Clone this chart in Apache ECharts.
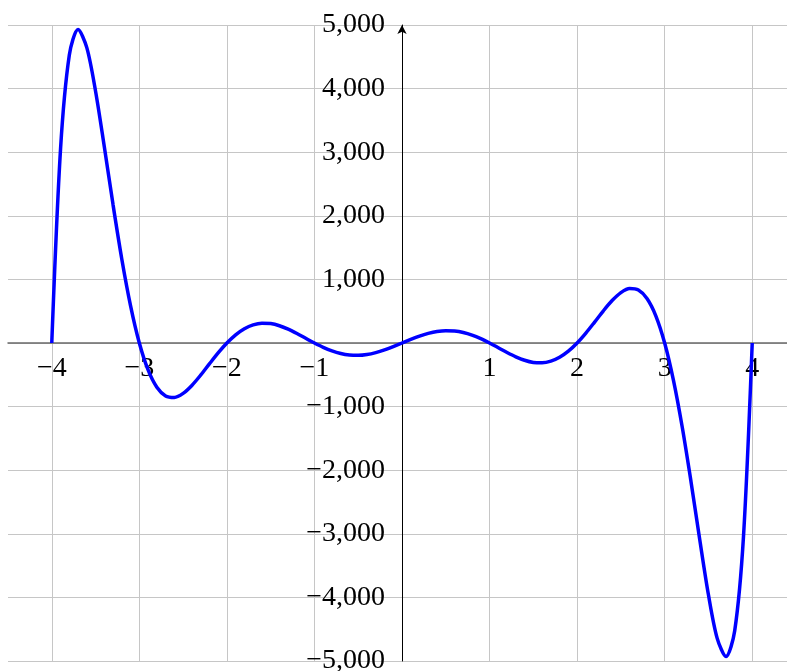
<!DOCTYPE html>
<html>
<head>
<meta charset="utf-8">
<script src="https://cdn.jsdelivr.net/npm/echarts@6/dist/echarts.min.js"></script>
<style>
html,body{margin:0;padding:0;background:#fff;}
#chart{width:787px;height:671px;}
</style>
</head>
<body>
<div id="chart"></div>
<script>
const xValues = [
 -4.0,-3.9,-3.8,-3.7,-3.6,-3.5,-3.4,-3.3,-3.2,-3.1,
 -3.0,-2.9,-2.8,-2.7,-2.6,-2.5,-2.4,-2.3,-2.2,-2.1,
 -2.0,-1.9,-1.8,-1.7,-1.6,-1.5,-1.4,-1.3,-1.2,-1.1,
 -1.0,-0.9,-0.8,-0.7,-0.6,-0.5,-0.4,-0.3,-0.2,-0.1,
 0.0,0.1,0.2,0.3,0.4,0.5,0.6,0.7,0.8,0.9,
 1.0,1.1,1.2,1.3,1.4,1.5,1.6,1.7,1.8,1.9,
 2.0,2.1,2.2,2.3,2.4,2.5,2.6,2.7,2.8,2.9,
 3.0,3.1,3.2,3.3,3.4,3.5,3.6,3.7,3.8,3.9,
 4.0
];
const yValues = [
 0,3048,4525,4929,4644,3959,3085,2172,1318,584,
 0,-424,-696,-832,-856,-792,-667,-506,-329,-156,
 0,129,225,286,311,305,271,217,149,74,
 0,-68,-124,-165,-189,-194,-181,-151,-109,-57,
 0,57,109,151,181,194,189,165,124,68,
 0,-74,-149,-217,-271,-305,-311,-286,-225,-129,
 0,156,329,506,667,792,856,832,696,424,
 0,-584,-1318,-2172,-3085,-3959,-4644,-4929,-4525,-3048,
 0
];
const xTickLabels = [-4,-3,-2,-1,1,2,3,4];
const yTickLabels = [-5000,-4000,-3000,-2000,-1000,1000,2000,3000,4000,5000];

const MINUS = '\u2212';
function fmtX(v){
  const r = Math.round(v*1000)/1000;
  if (xTickLabels.indexOf(r) < 0) return '';
  return (r < 0 ? MINUS : '') + Math.abs(r);
}
function fmtY(v){
  if (yTickLabels.indexOf(v) < 0) return '';
  const s = Math.abs(v).toString().replace(/\B(?=(\d{3})+(?!\d))/g, ',');
  return (v < 0 ? MINUS : '') + s;
}

const data = xValues.map((x,i)=>[x, yValues[i]]);
const font = "'Liberation Serif', 'DejaVu Serif', serif";

const GRID = {left:8, top:25, width:788, height:636};
const X_MIN = -4.5, X_MAX = 4.5, Y_MIN = -5000, Y_MAX = 5000;
// place axes through the origin using the grid geometry
const xAxisOffset = -GRID.height * (0 - Y_MIN) / (Y_MAX - Y_MIN);
const yAxisOffset = -GRID.width * (0 - X_MIN) / (X_MAX - X_MIN);

const chart = echarts.init(document.getElementById('chart'), null, {renderer:'canvas'});
chart.setOption({
  animation:false,
  backgroundColor:'#ffffff',
  grid:{left:GRID.left, top:GRID.top, width:GRID.width, height:GRID.height, containLabel:false, outerBoundsMode:'none'},
  xAxis:{
    type:'value', min:X_MIN, max:X_MAX, interval:0.5, position:'bottom', offset:xAxisOffset,
    axisLine:{show:true, onZero:false, lineStyle:{color:'#6a6a6a', width:1.5}, symbol:['none','arrow'], symbolSize:[7,9]},
    axisTick:{show:false},
    axisLabel:{show:true, formatter:fmtX, color:'#000', fontFamily:font, fontSize:28, margin:12, lineHeight:28},
    splitLine:{show:true, lineStyle:{color:['rgba(0,0,0,0)','#c6c6c6'], width:1}}
  },
  yAxis:{
    type:'value', min:Y_MIN, max:Y_MAX, interval:1000, position:'left', offset:yAxisOffset,
    axisLine:{show:true, onZero:false, lineStyle:{color:'#000', width:1}, symbol:['none','arrow'], symbolSize:[7,9]},
    axisTick:{show:false},
    axisLabel:{show:true, formatter:fmtY, color:'#000', fontFamily:font, fontSize:28, margin:17},
    splitLine:{show:true, lineStyle:{color:'#c6c6c6', width:1}}
  },
  series:[{
    type:'line', data:data, showSymbol:false, smooth:0.3, z:2,
    lineStyle:{color:'#0000ff', width:3.5},
    clip:false
  }]
});
</script>
</body>
</html>
